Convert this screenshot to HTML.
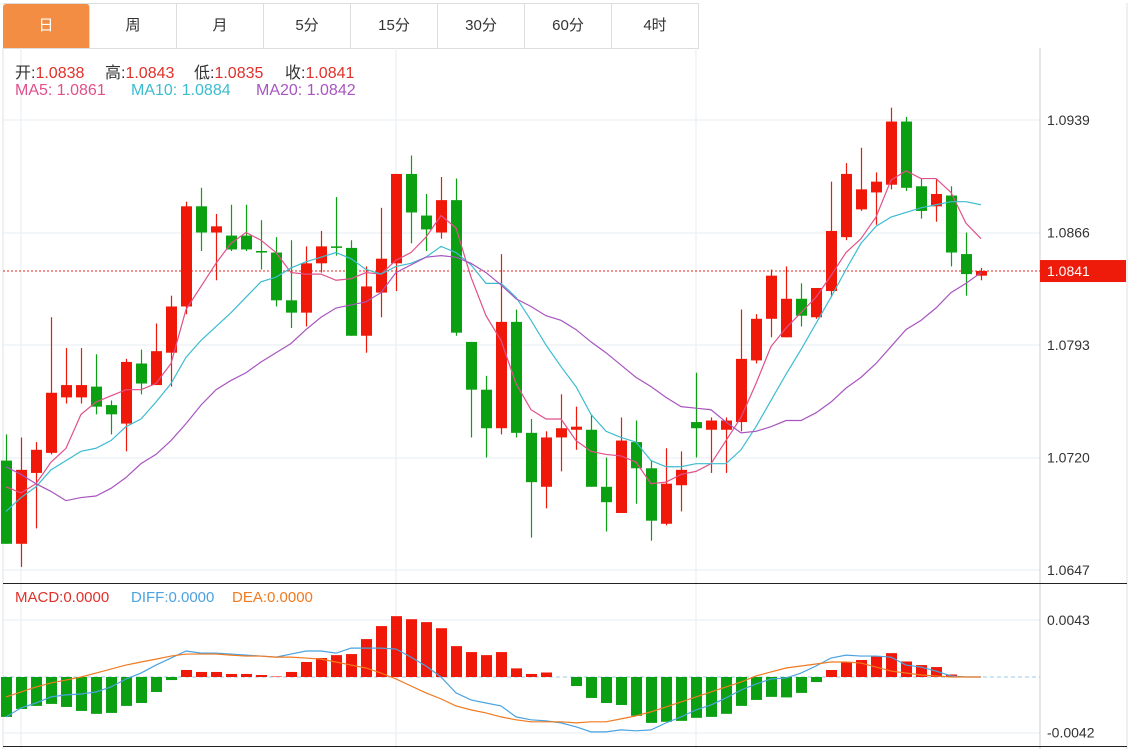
<!DOCTYPE html>
<html><head><meta charset="utf-8">
<style>
body{margin:0;width:1139px;height:749px;background:#fff;overflow:hidden;font-family:"Liberation Sans","Noto Sans CJK SC",sans-serif;}
#tabs{position:absolute;left:3px;top:3px;height:44px;display:flex;border-top:1px solid #ddd;border-bottom:1px solid #ddd;}
.tab{width:87px;height:44px;line-height:44px;text-align:center;font-size:15px;color:#333;border-right:1px solid #ddd;box-sizing:border-box;}
.tab.on{background:#f28d43;color:#fff;border-radius:3px 3px 0 0;}
.lg{position:absolute;font-size:16px;white-space:pre;}
.lg2{position:absolute;font-size:15px;white-space:pre;}
</style></head><body>
<div id="tabs">
<div class="tab on">日</div>
<div class="tab">周</div>
<div class="tab">月</div>
<div class="tab">5分</div>
<div class="tab">15分</div>
<div class="tab">30分</div>
<div class="tab">60分</div>
<div class="tab">4时</div>
</div>
<svg id="chart" width="1139" height="749" style="position:absolute;left:0;top:0"></svg>
<div>
<span class="lg" style="left:15px;top:59px"><span style="color:#333">开:</span><span style="color:#e0302a">1.0838</span></span>
<span class="lg" style="left:105px;top:59px"><span style="color:#333">高:</span><span style="color:#e0302a">1.0843</span></span>
<span class="lg" style="left:194px;top:59px"><span style="color:#333">低:</span><span style="color:#e0302a">1.0835</span></span>
<span class="lg" style="left:285px;top:59px"><span style="color:#333">收:</span><span style="color:#e0302a">1.0841</span></span>
</div>
<div>
<span class="lg" style="left:15px;top:82px;color:#e0508a">MA5: 1.0861</span>
<span class="lg" style="left:131px;top:82px;color:#3cbcd0">MA10: 1.0884</span>
<span class="lg" style="left:256px;top:82px;color:#a855c0">MA20: 1.0842</span>
</div>
<div>
<span class="lg2" style="left:15px;top:589px;color:#e0302a">MACD:0.0000</span>
<span class="lg2" style="left:131px;top:589px;color:#4aa3e0">DIFF:0.0000</span>
<span class="lg2" style="left:232px;top:589px;color:#f07a20">DEA:0.0000</span>
</div>
<script>
const opens=[1.0718,1.0664,1.0710,1.0723,1.0759,1.0759,1.0766,1.0754,1.0742,1.0781,1.0767,1.0788,1.0818,1.0883,1.0866,1.0864,1.0864,1.0854,1.0853,1.0822,1.0814,1.0846,1.0857,1.0856,1.0799,1.0827,1.0846,1.0904,1.0877,1.0866,1.0887,1.0795,1.0764,1.0739,1.0808,1.0736,1.0701,1.0733,1.0738,1.0738,1.0701,1.0684,1.0730,1.0713,1.0677,1.0702,1.0743,1.0738,1.0738,1.0743,1.0783,1.0810,1.0798,1.0823,1.0811,1.0828,1.0863,1.0881,1.0892,1.0897,1.0938,1.0896,1.0883,1.0890,1.0852,1.0838];
const highs=[1.0735,1.0733,1.0730,1.0811,1.0791,1.0791,1.0787,1.0757,1.0784,1.0790,1.0807,1.0825,1.0886,1.0895,1.0878,1.0884,1.0884,1.0874,1.0863,1.0861,1.0857,1.0867,1.0889,1.0861,1.0844,1.0882,1.0904,1.0916,1.0891,1.0902,1.0901,1.0795,1.0773,1.0852,1.0816,1.0745,1.0737,1.0761,1.0753,1.0748,1.0720,1.0746,1.0744,1.0718,1.0726,1.0724,1.0775,1.0746,1.0746,1.0816,1.0813,1.0842,1.0844,1.0833,1.0830,1.0899,1.0911,1.0921,1.0905,1.0947,1.0941,1.0901,1.0901,1.0896,1.0866,1.0843];
const lows=[1.0664,1.0649,1.0674,1.0722,1.0755,1.0755,1.0748,1.0735,1.0724,1.0761,1.0767,1.0766,1.0813,1.0854,1.0835,1.0854,1.0854,1.0842,1.0818,1.0804,1.0805,1.0840,1.0851,1.0799,1.0788,1.0811,1.0828,1.0859,1.0854,1.0862,1.0799,1.0733,1.0720,1.0735,1.0733,1.0668,1.0687,1.0711,1.0725,1.0701,1.0672,1.0684,1.0690,1.0666,1.0676,1.0685,1.0720,1.0710,1.0710,1.0737,1.0781,1.0798,1.0798,1.0805,1.0810,1.0824,1.0861,1.0880,1.0871,1.0894,1.0893,1.0875,1.0873,1.0844,1.0825,1.0835];
const closes=[1.0664,1.0712,1.0725,1.0762,1.0767,1.0767,1.0753,1.0748,1.0782,1.0768,1.0789,1.0818,1.0883,1.0866,1.0870,1.0855,1.0855,1.0853,1.0822,1.0814,1.0846,1.0857,1.0856,1.0799,1.0831,1.0849,1.0904,1.0879,1.0868,1.0887,1.0801,1.0764,1.0739,1.0808,1.0736,1.0704,1.0733,1.0739,1.0740,1.0701,1.0691,1.0731,1.0713,1.0679,1.0703,1.0712,1.0739,1.0744,1.0744,1.0784,1.0810,1.0838,1.0823,1.0812,1.0830,1.0867,1.0904,1.0894,1.0899,1.0938,1.0895,1.0880,1.0891,1.0853,1.0839,1.0841];
const ma5=[1.0701,1.0697,1.0703,1.0717,1.0726,1.0748,1.0756,1.0760,1.0764,1.0764,1.0768,1.0781,1.0816,1.0831,1.0846,1.0859,1.0866,1.0861,1.0853,1.0840,1.0839,1.0839,1.0835,1.0836,1.0840,1.0839,1.0848,1.0853,1.0863,1.0877,1.0869,1.0837,1.0812,1.0796,1.0768,1.0751,1.0745,1.0745,1.0731,1.0724,1.0722,1.0721,1.0717,1.0703,1.0704,1.0709,1.0711,1.0716,1.0731,1.0746,1.0768,1.0792,1.0804,1.0814,1.0824,1.0838,1.0853,1.0862,1.0876,1.0900,1.0906,1.0901,1.0901,1.0892,1.0872,1.0862];
const ma10=[1.0685,1.0694,1.0701,1.0712,1.0718,1.0724,1.0726,1.0731,1.0740,1.0745,1.0756,1.0768,1.0785,1.0796,1.0805,1.0814,1.0824,1.0834,1.0837,1.0843,1.0847,1.0850,1.0853,1.0849,1.0842,1.0839,1.0844,1.0846,1.0850,1.0857,1.0853,1.0845,1.0833,1.0833,1.0824,1.0809,1.0793,1.0779,1.0766,1.0748,1.0737,1.0733,1.0730,1.0718,1.0714,1.0714,1.0716,1.0716,1.0716,1.0725,1.0740,1.0757,1.0774,1.0790,1.0807,1.0824,1.0842,1.0859,1.0870,1.0876,1.0879,1.0882,1.0884,1.0886,1.0886,1.0884];
const ma20=[1.0714,1.0709,1.0703,1.0698,1.0692,1.0694,1.0695,1.0700,1.0707,1.0716,1.0722,1.0731,1.0742,1.0754,1.0764,1.0770,1.0775,1.0782,1.0788,1.0794,1.0803,1.0811,1.0817,1.0819,1.0821,1.0827,1.0840,1.0845,1.0850,1.0851,1.0850,1.0846,1.0840,1.0832,1.0823,1.0818,1.0812,1.0809,1.0803,1.0795,1.0788,1.0780,1.0772,1.0766,1.0759,1.0753,1.0752,1.0751,1.0743,1.0736,1.0737,1.0740,1.0744,1.0744,1.0749,1.0756,1.0765,1.0772,1.0781,1.0792,1.0803,1.0809,1.0817,1.0827,1.0833,1.0840];
const priceTicks=["1.0939","1.0866","1.0793","1.0720","1.0647"];
const lastPrice=1.0841;
// MACD in units of 1e-4
const macdHist=[-30.1,-24.1,-21.8,-20.3,-22.6,-25.6,-27.8,-27.1,-21.8,-19.6,-11.3,-2.3,5.3,3.8,3.8,2.3,2.3,1.5,0.4,3.8,11.3,14.3,16.5,17.3,28.6,38.4,45.9,43.6,41.4,36.8,23.3,18.8,16.5,18.8,6.5,2.3,3.4,0,-6.8,-15.8,-19.6,-21.1,-29.3,-34.6,-33.8,-33.1,-30.8,-30.1,-27.8,-21.8,-17.3,-15,-15.4,-12,-3.8,5.3,11.3,12.8,15.4,18,11.7,9,7.5,1.9,0,0];
const diffLine=[-30.1,-23.3,-19.6,-15,-13.5,-12.8,-11.3,-7.5,-1.5,3,9,14.3,19.6,18,18,17.3,16.5,15.8,15,17.3,19.6,19.6,18,21.8,21.8,21.8,21.1,15,8.3,0,-12,-17.3,-19.6,-21.8,-30.1,-32.3,-33.1,-34.6,-37.6,-41.4,-41.4,-39.9,-40.6,-39.9,-34.6,-30.1,-24.8,-21.1,-15.8,-9.8,-5.3,-1.5,-0.8,3,8.3,14.3,16.5,15.8,15.8,15,9,7.5,4.5,0.8,0,0];
const deaLine=[-15,-11.3,-7.5,-4.5,-2.3,0,3,6,9,11.3,13.5,15.8,17.3,17.3,17.3,16.5,15.8,15.8,15,15,14.3,13.5,11.3,9,6.8,3,-1.5,-6.8,-12,-16.5,-21.8,-24.8,-27.1,-30.1,-32.3,-33.8,-33.8,-33.8,-34.6,-33.8,-33.8,-31.6,-29.3,-26.3,-22.6,-18.8,-15,-11.3,-7.5,-3.8,0.8,3.8,6.8,8.3,9.8,11.3,11.3,10.5,7.5,4.5,3,1.5,0.8,0,0,0];
const macdTicks=["0.0043","-0.0042"];

const svg=document.getElementById('chart');
const NS='http://www.w3.org/2000/svg';
function mk(tag,attrs){const e=document.createElementNS(NS,tag);for(const k in attrs)e.setAttribute(k,attrs[k]);svg.appendChild(e);return e;}
const xs=i=>6+15*i;
const yp=p=>120+(1.0939-p)/0.0073*112.5;
const ym=v=>677-v*(57/43);

let g;
[120,233,345,458,570].forEach(y=>{g=mk('line',{x1:3,x2:1040,y1:y,y2:y,stroke:'#e6edf2','stroke-width':1});});
[620,733].forEach(y=>{g=mk('line',{x1:3,x2:1040,y1:y,y2:y,stroke:'#e6edf2','stroke-width':1});});
[21,396,696].forEach(x=>{g=mk('line',{x1:x,x2:x,y1:48,y2:749,stroke:'#e6edf2','stroke-width':1});});
g=mk('line',{x1:1040,x2:1040,y1:48,y2:749,stroke:'#ccc'});
g=mk('line',{x1:1127,x2:1127,y1:3,y2:749,stroke:'#e0e0e0'});
g=mk('line',{x1:3,x2:3,y1:48,y2:749,stroke:'#e0e0e0'});
g=mk('line',{x1:3,x2:1127,y1:583.5,y2:583.5,stroke:'#222'});
g=mk('line',{x1:3,x2:1127,y1:746.5,y2:746.5,stroke:'#222'});

priceTicks.forEach(t=>{const e=mk('text',{x:1047,y:yp(parseFloat(t))+5,'font-size':14,fill:'#333','font-family':'Liberation Sans'});e.textContent=t;});
macdTicks.forEach(t=>{const e=mk('text',{x:1047,y:ym(parseFloat(t)*1e4)+5,'font-size':14,fill:'#333','font-family':'Liberation Sans'});e.textContent=t;});

g=mk('line',{x1:3,x2:1040,y1:yp(lastPrice),y2:yp(lastPrice),stroke:'#e8231a','stroke-dasharray':'2,2'});
g=mk('rect',{x:1040,y:yp(lastPrice)-11,width:86,height:22,fill:'#ee1a0a'});
g=mk('text',{x:1047,y:yp(lastPrice)+5,'font-size':14,fill:'#fff','font-family':'Liberation Sans'});g.textContent=lastPrice.toFixed(4);

for(let i=0;i<opens.length;i++){
  const up=closes[i]>=opens[i];const col=up?'#f01808':'#0aa012';const x=xs(i);
  const w=mk('line',{x1:x+0.5,x2:x+0.5,y1:yp(highs[i]),y2:yp(lows[i]),stroke:col,'stroke-width':1.2});
  
  
  const t=yp(Math.max(opens[i],closes[i])),b=yp(Math.min(opens[i],closes[i]));
  const r=mk('rect',{x:x-5,y:t,width:11,height:Math.max(b-t,1.5),fill:col});
  
  
}
function line(arr,yf,col,name){
  const p=mk('polyline',{points:arr.map((v,i)=>xs(i)+','+yf(v)).join(' '),fill:'none',stroke:col,'stroke-width':1.2});
  
  
}
line(ma5,yp,'#e0508a','ma5-line');
line(ma10,yp,'#3cbcd0','ma10-line');
line(ma20,yp,'#a855c0','ma20-line');

g=mk('line',{x1:3,x2:1040,y1:677,y2:677,stroke:'#9cc8e6','stroke-dasharray':'4,3'});
macdHist.forEach((v,i)=>{
  const y0=ym(0),y1=ym(v);
  const r=mk('rect',{x:xs(i)-5,y:Math.min(y0,y1),width:11,height:Math.abs(y1-y0),fill:v>=0?'#f01808':'#0aa012'});
  
  
});
line(diffLine,ym,'#4aa3e0','diff-line');
line(deaLine,ym,'#f07a20','dea-line');
</script>
</body></html>
